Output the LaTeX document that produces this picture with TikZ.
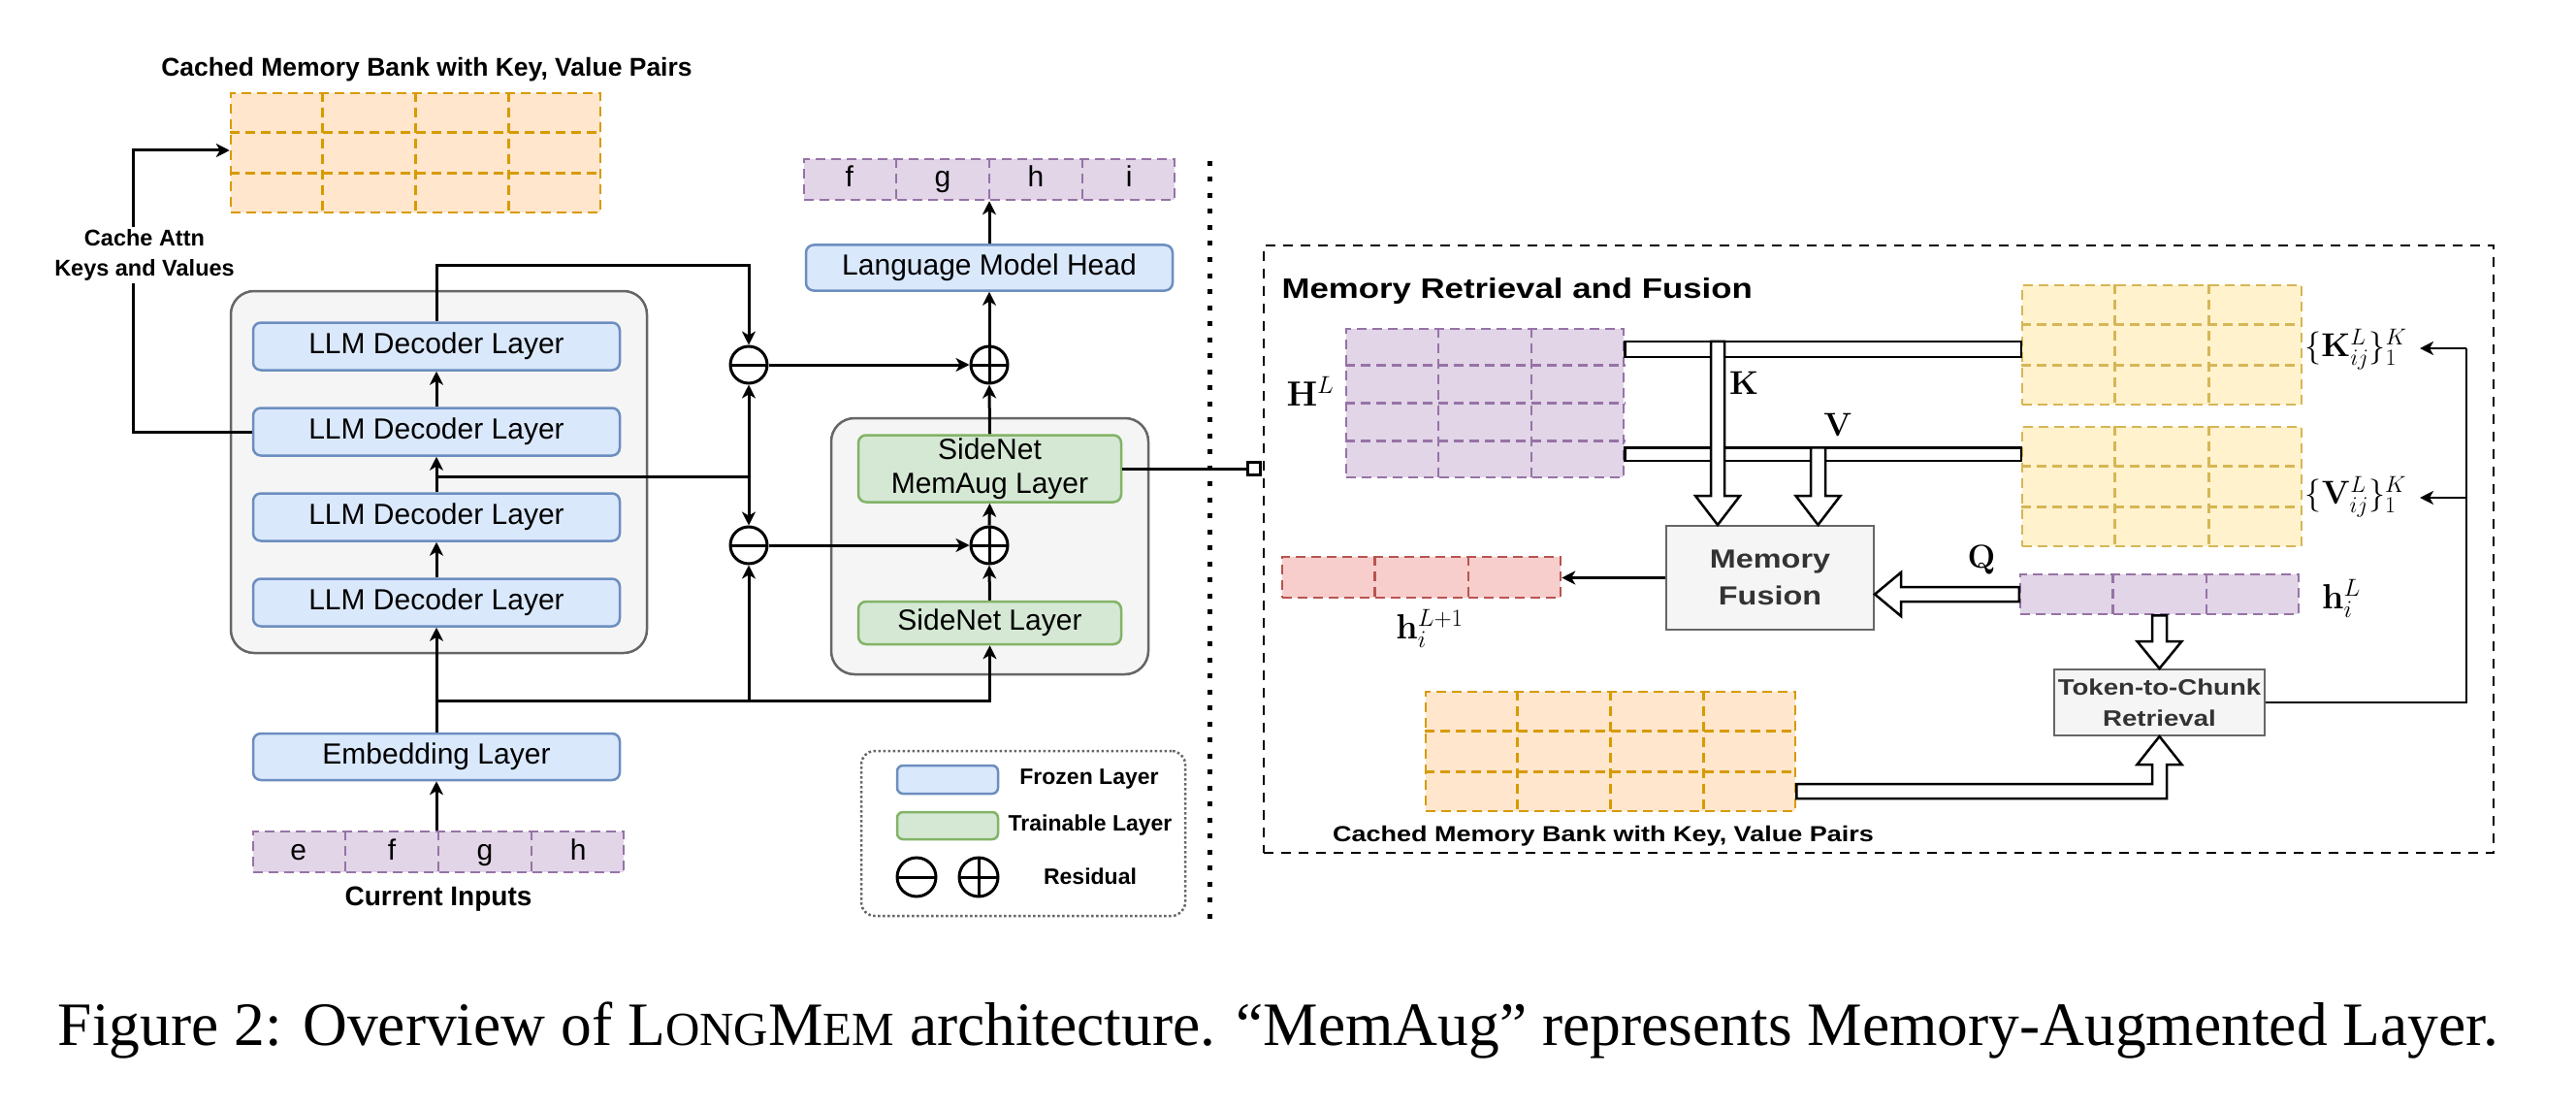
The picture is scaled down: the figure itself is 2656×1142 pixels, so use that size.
\RequirePackage{fix-cm}
\documentclass[tikz,border=0pt]{standalone}
\usepackage[no-math]{fontspec}
\setmainfont{Liberation Serif}
\setsansfont{Liberation Sans}
\newfontfamily\rsans[FakeStretch=1.2]{Liberation Sans}
\usetikzlibrary{arrows.meta,calc}
\definecolor{frozenF}{HTML}{DAE8FC}\definecolor{frozenD}{HTML}{6C8EBF}
\definecolor{trainF}{HTML}{D5E8D4}\definecolor{trainD}{HTML}{82B366}
\definecolor{grayF}{HTML}{F5F5F5}\definecolor{grayD}{HTML}{666666}
\definecolor{purF}{HTML}{E1D5E7}\definecolor{purD}{HTML}{9673A6}
\definecolor{orF}{HTML}{FFE6CC}\definecolor{orD}{HTML}{D79B00}
\definecolor{yelF}{HTML}{FFF2CC}\definecolor{yelD}{HTML}{D6B656}
\definecolor{redF}{HTML}{F8CECC}\definecolor{redD}{HTML}{B85450}
\newcommand\lf{\sffamily\fontsize{30}{35}\selectfont}
\newcommand\vsep[3]{\foreach \i in {1,...,\numexpr#2-1\relax}{\draw[cellline,draw=#3] ($(#1.north west)!\i/#2!(#1.north east)$) -- ($(#1.south west)!\i/#2!(#1.south east)$);}}
\newcommand\hsep[3]{\foreach \i in {1,...,\numexpr#2-1\relax}{\draw[cellline,draw=#3] ($(#1.north west)!\i/#2!(#1.south west)$) -- ($(#1.north east)!\i/#2!(#1.south east)$);}}
\newcommand\fsc[1]{{\fontsize{49}{52}\selectfont #1}}
\tikzset{
  conn/.style={line width=3pt,draw=black},
  arr/.style={conn,-{Stealth[length=14pt,width=14pt,inset=4pt]}},
  frozen/.style={draw=frozenD,fill=frozenF,line width=2.5pt,rounded corners=8pt,minimum width=378pt,minimum height=49pt,inner sep=0pt,font=\lf},
  train/.style={draw=trainD,fill=trainF,line width=2.5pt,rounded corners=8pt,minimum width=271pt,minimum height=44pt,inner sep=0pt,font=\lf,align=center},
  cbox/.style={draw=grayD,fill=grayF,line width=2.5pt,rounded corners=24pt,inner sep=0pt},
  gridbox/.style={line width=2.5pt,dash pattern=on 10pt off 6pt,inner sep=0pt},
  cellline/.style={line width=2.5pt,dash pattern=on 10pt off 6pt},
  resc/.style={circle,draw,line width=3pt,fill=white,minimum size=38pt,inner sep=0pt},
  minusc/.style={resc,path picture={\draw[line width=3pt] (path picture bounding box.west) -- (path picture bounding box.east);}},
  plusc/.style={resc,path picture={\draw[line width=3pt] (path picture bounding box.west) -- (path picture bounding box.east) (path picture bounding box.north) -- (path picture bounding box.south);}},
  tokn/.style={font=\lf,text height=22pt,text depth=6pt,inner sep=0pt},
  lbold/.style={font=\sffamily\bfseries\fontsize{#1}{#1}\selectfont},
  rbold/.style={font=\rsans\bfseries\fontsize{#1}{#1}\selectfont},
  graybox/.style={draw=grayD,fill=grayF,line width=2pt,inner sep=0pt},
  hollow/.style={draw=black,fill=white,line width=2.5pt,line join=miter},
  mlab/.style={font=\fontsize{#1}{#1}\selectfont,inner sep=0pt},
}
\begin{document}
\begin{tikzpicture}[x=1pt,y=-1pt]
\useasboundingbox[fill=white] (0,0) rectangle (2656,1142);

% ---------------- left panel ----------------
\node[lbold=26.5] (ttl1) at (440,72) {Cached Memory Bank with Key, Value Pairs};
\node[gridbox,fill=orF,draw=orD,minimum width=381pt,minimum height=123pt] (bank1) at (428.5,157.5) {};
\vsep{bank1}{4}{orD}\hsep{bank1}{3}{orD}

\node[cbox,minimum width=429pt,minimum height=373pt] (llm) at (452.5,486.5) {};
\node[frozen] (dec1) at (450,357) {LLM Decoder Layer};
\node[frozen] (dec2) at (450,445) {LLM Decoder Layer};
\node[frozen] (dec3) at (450,533) {LLM Decoder Layer};
\node[frozen] (dec4) at (450,621) {LLM Decoder Layer};
\node[frozen,minimum height=48pt] (emb) at (450,780) {Embedding Layer};

\node[gridbox,fill=purF,draw=purD,minimum width=382pt,minimum height=42pt] (inp) at (452,878) {};
\vsep{inp}{4}{purD}
\foreach \t [count=\i] in {e,f,g,h}
  \node[tokn] (tk\i) at ($(inp.west)!{(2*\i-1)/8}!(inp.east)$) {\t};
\node[lbold=28] (curin) at (452,927) {Current Inputs};

% side net
\node[cbox,minimum width=327pt,minimum height=264pt] (side) at (1020.5,563) {};
\node[train,minimum height=69pt] (memaug) at (1020.5,483) {SideNet\\MemAug Layer};
\node[train] (sideL) at (1020.5,642) {SideNet Layer};
\node[frozen,minimum height=47pt] (lmhead) at (1020,276) {Language Model Head};
\node[gridbox,fill=purF,draw=purD,minimum width=382pt,minimum height=42pt] (outp) at (1020,185) {};
\vsep{outp}{4}{purD}
\foreach \t [count=\i] in {f,g,h,i}
  \node[tokn] (to\i) at ($(outp.west)!{(2*\i-1)/8}!(outp.east)$) {\t};

\node[minusc] (mi1) at (772,376) {};
\node[minusc] (mi2) at (772,562) {};
\node[plusc] (pl1) at (1020,376) {};
\node[plusc] (pl2) at (1020,562) {};

% connectors
\draw[arr] (inp.north -| emb.south) -- (emb.south);
\draw[arr] (emb.north) -- (dec4.south);
\draw[arr] (dec4.north) -- (dec3.south);
\draw[arr] (dec3.north) -- (dec2.south);
\draw[arr] (dec2.north) -- (dec1.south);
\coordinate (j1) at (450,722);
\coordinate (j2) at (450,491);
\draw[arr] (j1) -| (sideL.south);
\draw[arr] (mi2.south |- j1) -- (mi2.south);
\draw[conn] (j2) -- (j2 -| mi1);
\draw[arr] (j2 -| mi1) -- (mi1.south);
\draw[arr] (j2 -| mi1) -- (mi2.north);
\draw[arr] (dec1.north) -- (dec1.north |- 0,273.5) -| (mi1.north);
\draw[arr] (mi1.east) -- (pl1.west);
\draw[arr] (mi2.east) -- (pl2.west);
\draw[arr] (sideL.north) -- (pl2.south);
\draw[arr] (pl2.north) -- (memaug.south);
\draw[arr] (memaug.north) -- (pl1.south);
\draw[arr] (pl1.north) -- (lmhead.south);
\draw[arr] (lmhead.north) -- (outp.south);

% cache line
\coordinate (cbend) at (137.5,155);
\draw[arr] (dec2.west) -| (cbend) -- (cbend -| bank1.west);
\node[align=center,fill=white,inner sep=3pt,font=\sffamily\bfseries\fontsize{23.5}{31}\selectfont] (cachetxt) at (149,263) {Cache Attn\\Keys and Values};

% link to right panel
\node[draw,line width=2.5pt,fill=white,minimum size=13pt,inner sep=0pt] (sq) at (1293,483) {};
\draw[conn] (memaug.east) -- (sq.west);

% divider
\coordinate (dvt) at (1247,166);
\coordinate (dvb) at (1247,954);
\draw[line width=5pt,dash pattern=on 5pt off 11.5pt] (dvt) -- (dvb);

% legend
\node[draw=grayD,line width=2.5pt,dash pattern=on 2.5pt off 2.5pt,rounded corners=14pt,minimum width=334pt,minimum height=170pt] (leg) at (1055,859) {};
\node[draw=frozenD,fill=frozenF,line width=2.5pt,rounded corners=6pt,minimum width=104pt,minimum height=29pt,inner sep=0pt] (lgb) at (977,803.5) {};
\node[draw=trainD,fill=trainF,line width=2.5pt,rounded corners=6pt,minimum width=104pt,minimum height=28pt,inner sep=0pt] (lgg) at (977,851) {};
\node[minusc,minimum size=40pt] (lgm) at (945,904) {};
\node[plusc,minimum size=40pt] (lgp) at (1009,904) {};
\node[lbold=23] (lt1) at (1123,803) {Frozen Layer};
\node[lbold=23] (lt2) at (1124,851) {Trainable Layer};
\node[lbold=23] (lt3) at (1124,903) {Residual};

% ---------------- right panel ----------------
\node[draw,line width=2.5pt,dash pattern=on 10pt off 8pt,minimum width=1268pt,minimum height=626pt,inner sep=0pt] (rbox) at (1937,566) {};
\node[rbold=29,anchor=west] (ttl2) at (1318,300) {Memory Retrieval and Fusion};

\node[gridbox,fill=purF,draw=purD,minimum width=286pt,minimum height=153pt] (HL) at (1531,415.5) {};
\vsep{HL}{3}{purD}\hsep{HL}{4}{purD}
\node[mlab=36] (HLl) at (1351,403) {$\mathbf{H}^{L}$};

\node[gridbox,fill=yelF,draw=yelD,minimum width=288pt,minimum height=123pt] (Kg) at (2229,355.5) {};
\vsep{Kg}{3}{yelD}\hsep{Kg}{3}{yelD}
\node[gridbox,fill=yelF,draw=yelD,minimum width=288pt,minimum height=123pt] (Vg) at (2229,501.5) {};
\vsep{Vg}{3}{yelD}\hsep{Vg}{3}{yelD}
\node[mlab=34] (kl) at (2429,360) {$\{\mathbf{K}_{ij}^{L}\}_{1}^{K}$};
\node[mlab=34] (vl) at (2429,512) {$\{\mathbf{V}_{ij}^{L}\}_{1}^{K}$};

\node[graybox,minimum width=214pt,minimum height=107pt,align=center,font=\rsans\bfseries\fontsize{27}{38}\selectfont,text=black!80] (mf) at (1825,595.5) {Memory\\Fusion};

\node[gridbox,fill=redF,draw=redD,minimum width=287pt,minimum height=42pt] (hl1) at (1465.5,595) {};
\vsep{hl1}{3}{redD}
\node[mlab=36] (hl1l) at (1474,648) {$\mathbf{h}_{i}^{L+1}$};

\node[gridbox,fill=purF,draw=purD,minimum width=287pt,minimum height=41pt] (hiL) at (2226.5,612.5) {};
\vsep{hiL}{3}{purD}
\node[mlab=36] (hiLl) at (2414,617) {$\mathbf{h}_{i}^{L}$};

\node[graybox,minimum width=217pt,minimum height=68pt,align=center,font=\rsans\bfseries\fontsize{23}{32}\selectfont,text=black!80] (t2c) at (2226.5,724) {Token-to-Chunk\\Retrieval};

\node[gridbox,fill=orF,draw=orD,minimum width=381pt,minimum height=123pt] (bank2) at (1660.5,774.5) {};
\vsep{bank2}{4}{orD}\hsep{bank2}{3}{orD}
\node[rbold=22.5] (ttl3) at (1653,862) {Cached Memory Bank with Key, Value Pairs};

% hollow arrows
\draw[hollow] ($(HL.north east)+(0,14)$) rectangle ($(Kg.west)+(0,12.5)$);
\draw[hollow] ($(HL.south east)+(0,-32)$) rectangle ($(Vg.west)+(0,-26.5)$);
\draw[hollow] let \p1=($(mf.north)+(49.5,0)$), \p2=(HL.south) in
  (\x1-7.5pt,\y2+32pt) -- (\x1-7.5pt,\y1+30pt) -- (\x1-23pt,\y1+30pt) -- (\x1,\y1) -- (\x1+23pt,\y1+30pt) -- (\x1+7.5pt,\y1+30pt) -- (\x1+7.5pt,\y2+32pt) -- cycle;
\draw[hollow] let \p1=($(mf.north)+(-54,0)$), \p2=(HL.north) in
  (\x1-7pt,\y2-14pt) -- (\x1-7pt,\y1+30pt) -- (\x1-23pt,\y1+30pt) -- (\x1,\y1) -- (\x1+23pt,\y1+30pt) -- (\x1+7pt,\y1+30pt) -- (\x1+7pt,\y2-14pt) -- cycle;
\node[mlab=34] (Klab) at (1798,395) {$\mathbf{K}$};
\node[mlab=34] (Vlab) at (1895,438) {$\mathbf{V}$};
\draw[hollow] let \p1=(hiL.west), \p2=(mf.east) in
  (\x1,\y1+7.5pt) -- (\x2+27pt,\y1+7.5pt) -- (\x2+27pt,\y1+22.5pt) -- (\x2,\y1) -- (\x2+27pt,\y1-22.5pt) -- (\x2+27pt,\y1-7.5pt) -- (\x1,\y1-7.5pt) -- cycle;
\node[mlab=34] (Qlab) at (2043,577) {$\mathbf{Q}$};
\draw[hollow] let \p1=(hiL.south), \p2=(t2c.north) in
  (\x1-7.5pt,\y1) -- (\x1-7.5pt,\y2+28pt) -- (\x1-23pt,\y2+28pt) -- (\x1,\y2) -- (\x1+23pt,\y2+28pt) -- (\x1+7.5pt,\y2+28pt) -- (\x1+7.5pt,\y1) -- cycle;
\draw[hollow] let \p1=($(bank2.east)+(0,41)$), \p2=(t2c.south) in
  (\x1,\y1+7.5pt) -- (\x2-7.5pt,\y1+7.5pt) -- (\x2-7.5pt,\y2-29pt) -- (\x2-23pt,\y2-29pt) -- (\x2,\y2) -- (\x2+23pt,\y2-29pt) -- (\x2+7.5pt,\y2-29pt) -- (\x2+7.5pt,\y1-7.5pt) -- (\x1,\y1-7.5pt) -- cycle;

% thin connectors
\draw[arr,line width=2.5pt] (mf.west) -- (mf.west -| hl1.east);
\coordinate (kin) at (2495,359);
\coordinate (vin) at (2495,513);
\draw[conn,line width=2.5pt] (t2c.east) -| ($(kin)+(48,0)$);
\draw[arr,line width=2.5pt] ($(kin)+(48,0)$) -- (kin);
\draw[arr,line width=2.5pt] ($(vin)+(48,0)$) -- (vin);

% caption
\node[anchor=base,font=\rmfamily\fontsize{63.5}{66}\selectfont,inner sep=0pt] (cap) at (1318,1077)
  {Figure 2: Overview of L\fsc{ONG}M\fsc{EM} architecture. “MemAug” represents Memory-Augmented Layer.};
\end{tikzpicture}
\end{document}
